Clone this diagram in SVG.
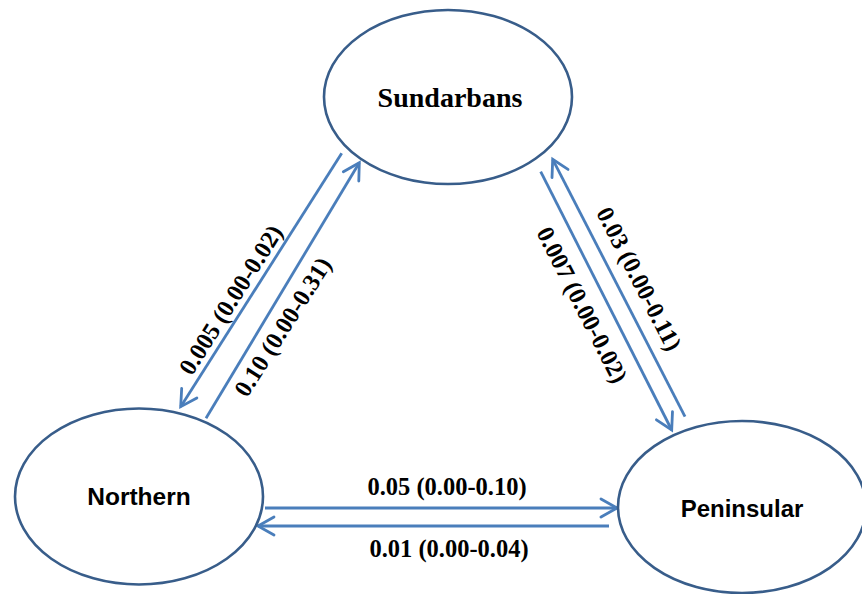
<svg xmlns="http://www.w3.org/2000/svg" width="862" height="594" viewBox="0 0 862 594">
  <style>
    .node ellipse { fill: #ffffff; stroke: #385D8A; stroke-width: 2.6; }
    .serifname { font-family: "Liberation Serif", "Times New Roman", serif; font-weight: bold; font-size: 28px; fill: #000; text-anchor: middle; }
    .sansname { font-family: "Liberation Sans", Arial, sans-serif; font-weight: bold; font-size: 24.5px; fill: #000; text-anchor: middle; }
    .edge { stroke: #4A7EBB; stroke-width: 2.8; fill: none; marker-end: url(#arr); }
    .lbl { font-family: "Liberation Serif", "Times New Roman", serif; font-weight: bold; font-size: 24.5px; fill: #000; text-anchor: middle; }
  </style>
  <defs>
    <marker id="arr" markerUnits="userSpaceOnUse" viewBox="-22 -14 28 28" refX="0" refY="0" markerWidth="28" markerHeight="28" orient="auto" overflow="visible">
      <path d="M-16,-9 L0,0 L-16,9" fill="none" stroke="#4A7EBB" stroke-width="2.8" stroke-linejoin="miter" stroke-linecap="round"/>
    </marker>
  </defs>
  <rect width="862" height="594" fill="#ffffff"/>

  <g id="connectors">
    <line class="edge" x1="341.7" y1="153.3" x2="180.7" y2="406.7"/>
    <line class="edge" x1="206" y1="418.3" x2="359.3" y2="162.7"/>
    <line class="edge" x1="540.7" y1="171.7" x2="671.7" y2="430"/>
    <line class="edge" x1="685" y1="416.7" x2="552.7" y2="159.3"/>
    <line class="edge" x1="265" y1="508" x2="617" y2="508"/>
    <line class="edge" x1="609" y1="526" x2="258" y2="526"/>
    <g id="edge-labels">
      <text class="lbl" transform="translate(231,300) rotate(-57.6)" y="8">0.005 (0.00-0.02)</text>
      <text class="lbl" transform="translate(283,327) rotate(-57.6)" y="8">0.10 (0.00-0.31)</text>
      <text class="lbl" transform="translate(639,279) rotate(62.8)" y="8">0.03 (0.00-0.11)</text>
      <text class="lbl" transform="translate(582,305) rotate(63)" y="8">0.007 (0.00-0.02)</text>
      <text class="lbl" x="447" y="495">0.05 (0.00-0.10)</text>
      <text class="lbl" x="449" y="557">0.01 (0.00-0.04)</text>
    </g>
  </g>

  <g id="node-sundarbans" class="node">
    <ellipse cx="448" cy="97" rx="124" ry="87"/>
    <text class="serifname" x="450" y="107">Sundarbans</text>
  </g>
  <g id="node-northern" class="node">
    <ellipse cx="139" cy="496.5" rx="124" ry="88"/>
    <text class="sansname" x="139" y="505">Northern</text>
  </g>
  <g id="node-peninsular" class="node">
    <ellipse cx="742" cy="507" rx="124" ry="86"/>
    <text class="sansname" x="742" y="517" style="font-size:24px">Peninsular</text>
  </g>
</svg>
